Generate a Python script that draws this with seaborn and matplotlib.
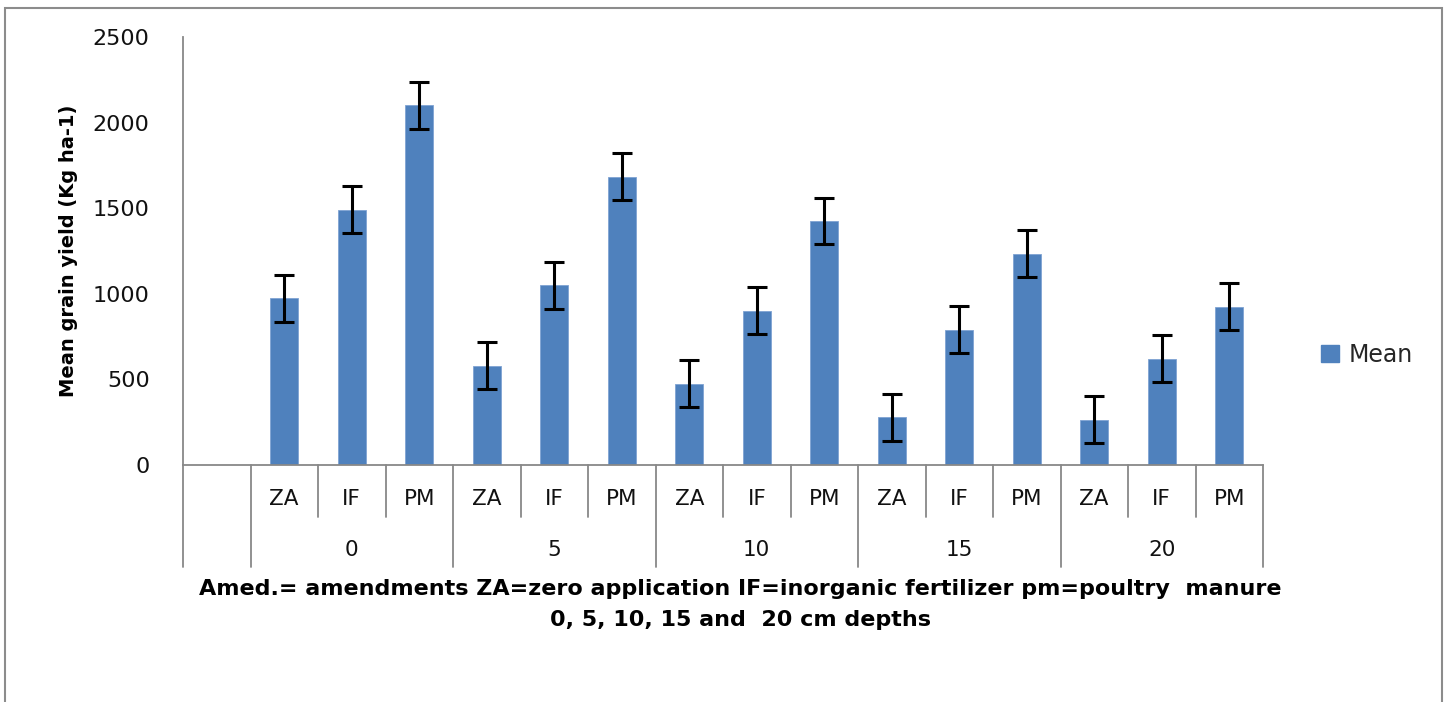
import matplotlib
matplotlib.use("Agg")
import matplotlib.pyplot as plt
import matplotlib.transforms as mtransforms
from matplotlib.patches import Rectangle, Patch
import seaborn as sns
import pandas as pd

# ---- data ----
depths = ["0", "5", "10", "15", "20"]
amendments = ["ZA", "IF", "PM"]
means = [975, 1490, 2100, 580, 1050, 1685, 475, 900, 1425, 280, 790, 1235, 265, 620, 925]
errors = [137, 137, 137, 137, 137, 137, 137, 137, 137, 137, 137, 137, 137, 137, 137]

cats = [""] + [f"{a}_{d}" for d in depths for a in amendments]
df = pd.DataFrame({"cat": cats[1:], "mean": means})

W, H = 1447, 702
fig = plt.figure(figsize=(W / 100, H / 100), dpi=100)
sns.set_style("white")
plt.rcParams["font.family"] = ["DejaVu Sans"]

ax = fig.add_axes([183 / W, 1 - 465 / H, (1263 - 183) / W, (465 - 37) / H])
blue = "#4F81BD"
sns.barplot(data=df, x="cat", y="mean", order=cats, color=blue, width=0.41,
            saturation=1, ax=ax, errorbar=None, edgecolor="#7FA3D3", linewidth=0.6)

xpos = [cats.index(c) for c in df["cat"]]
ax.errorbar(xpos, df["mean"], yerr=errors, fmt="none", ecolor="black",
            elinewidth=2.2, capsize=7.5, capthick=2.2, zorder=5)

ax.set_ylim(0, 2500)
ax.set_xlim(-0.5, len(cats) - 0.5)
ax.set_yticks([0, 500, 1000, 1500, 2000, 2500])
ax.tick_params(axis="y", length=8, width=1.2, color="#888888", labelsize=16, pad=16,
               labelcolor="#111111")
ax.tick_params(axis="x", length=0, labelbottom=False)
ax.set_xlabel("")
ax.set_ylabel("Mean grain yield (Kg ha-1)", fontsize=14, fontweight="bold", labelpad=11,
              color="black")
for s in ["top", "right"]:
    ax.spines[s].set_visible(False)
for s in ["left", "bottom"]:
    ax.spines[s].set_color("#888888")
    ax.spines[s].set_linewidth(1.3)

# multi-level category axis
tr = mtransforms.blended_transform_factory(ax.transData, ax.transAxes)
ah = 465 - 37
inner = -(517 - 465) / ah
outer = -(567 - 465) / ah
lc = dict(color="#888888", lw=1.3, clip_on=False, transform=tr)
ax.plot([-0.5, -0.5], [0, outer], **lc)
for i, c in enumerate(cats):
    if c == "":
        continue
    a, d = c.split("_")
    ax.text(i, -(499 - 465) / ah, a, transform=tr, ha="center", va="center",
            fontsize=15.5, color="#111111")
    left = i - 0.5
    if a == amendments[0]:
        ax.plot([left, left], [0, outer], **lc)
        ax.text(i + 1, -(550 - 465) / ah, d, transform=tr, ha="center", va="center",
                fontsize=15.5, color="#111111")
    else:
        ax.plot([left, left], [0, inner], **lc)
ax.plot([len(cats) - 0.5] * 2, [0, outer], **lc)

# x title
fig.text(740 / W, 1 - 589 / H, "Amed.= amendments ZA=zero application IF=inorganic fertilizer pm=poultry  manure",
         ha="center", va="center", fontsize=16, fontweight="bold", color="black")
fig.text(740 / W, 1 - 620 / H, "0, 5, 10, 15 and  20 cm depths",
         ha="center", va="center", fontsize=16, fontweight="bold", color="black")

# legend
fig.legend(handles=[Patch(facecolor=blue, edgecolor=blue)], labels=["Mean"],
           loc="center left", bbox_to_anchor=(1300 / W, 1 - 355 / H), frameon=False,
           fontsize=17, handlelength=0.75, handleheight=0.75, handletextpad=0.4)

# chart border
fig.patches.append(Rectangle((5 / W, -0.05), (1442 - 5) / W, 1.05 - 8 / H,
                             transform=fig.transFigure, fill=False,
                             edgecolor="#8c8c8c", lw=1.5))

fig.savefig("out.png", dpi=100)
